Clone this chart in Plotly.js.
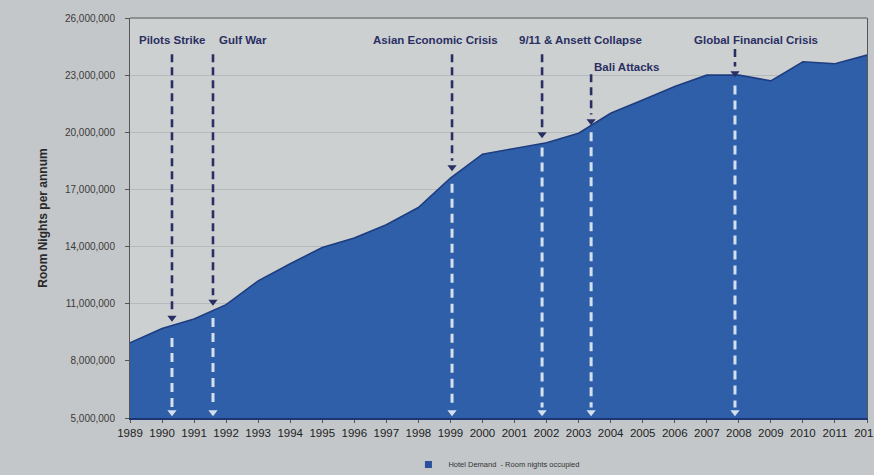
<!DOCTYPE html>
<html>
<head>
<meta charset="utf-8">
<script src="https://cdn.plot.ly/plotly-3.0.1.min.js"></script>
<style>
html,body{margin:0;padding:0;background:#c4c7c9;}
#chart{width:874px;height:475px;}
</style>
</head>
<body>
<div id="chart"></div>
<script>
// ---- data ----
const years = [1989,1990,1991,1992,1993,1994,1995,1996,1997,1998,1999,2000,2001,2002,2003,2004,2005,2006,2007,2008,2009,2010,2011,2012];
const roomNights = [8950000,9700000,10200000,10950000,12200000,13100000,13950000,14450000,15150000,16050000,17600000,18850000,19150000,19450000,19950000,21000000,21700000,22400000,23000000,23000000,22700000,23700000,23600000,24050000];
const seriesName = 'Hotel Demand  - Room nights occupied';
const yTicks = [5000000,8000000,11000000,14000000,17000000,20000000,23000000,26000000];

const eventNames = ['Pilots Strike','Gulf War','Asian Economic Crisis','9/11 & Ansett Collapse','Bali Attacks','Global Financial Crisis'];
const eventYears = [1990.31,1991.59,1999.05,2001.86,2003.39,2007.88];
const eventArrowTop = [24100000,24100000,24100000,24100000,23050000,24370000];
const eventArrowTip = [10260000,11100000,18160000,19900000,20580000,23100000];
const eventWhiteTop = [9200000,10250000,17300000,19200000,20000000,22450000];

// ---- styles ----
const navy = '#2a2f63';
const whiteDash = 'rgba(232,238,245,0.9)';
const fillBlue = '#2f5fa8';
const yBottom = 5300000;
const font = 'Liberation Sans, Arial, sans-serif';

const traces = [];
traces.push({
  x: years, y: roomNights, type: 'scatter', mode: 'lines', name: seriesName,
  fill: 'tozeroy', fillcolor: fillBlue, showlegend: false,
  line: {color: '#1d3d80', width: 1.6},
  hoverinfo: 'x+y'
});
// legend entry with a small square swatch
traces.push({
  x: [null], y: [null], type: 'scatter', mode: 'markers', name: seriesName,
  marker: {symbol: 'square', size: 7, color: '#2a4f9c'}, showlegend: true
});
eventYears.forEach((ex, i) => {
  traces.push({
    x: [ex, ex], y: [eventWhiteTop[i], yBottom + 250000], type: 'scatter', mode: 'lines',
    line: {color: whiteDash, width: 3, dash: '9px,6px'}, showlegend: false, hoverinfo: 'skip'
  });
  traces.push({
    x: [ex, ex], y: [eventArrowTop[i], eventArrowTip[i] + 350000], type: 'scatter', mode: 'lines',
    line: {color: navy, width: 2.6, dash: '8px,5px'}, showlegend: false, hoverinfo: 'skip'
  });
});
traces.push({
  x: eventYears, y: eventYears.map(() => yBottom), type: 'scatter', mode: 'markers',
  marker: {symbol: 'triangle-down', size: 8, color: whiteDash}, showlegend: false, hoverinfo: 'skip'
});
traces.push({
  x: eventYears, y: eventArrowTip, type: 'scatter', mode: 'markers',
  marker: {symbol: 'triangle-down', size: 8, color: navy}, showlegend: false, hoverinfo: 'skip'
});

const labelShift = [0, 4, -17, 38, 1, 21];
const labelAnchor = ['center','left','center','center','left','center'];
const labelY = [26000000,26000000,26000000,26000000,24400000,26000000];
const labelYShift = [-14,-14,-14,-14,-11,-14];
const annotations = eventNames.map((n, i) => ({
  x: eventYears[i], y: labelY[i], xref: 'x', yref: 'y',
  text: '<b>' + n + '</b>', showarrow: false,
  xanchor: labelAnchor[i], yanchor: 'top', xshift: labelShift[i], yshift: labelYShift[i],
  font: {family: font, size: 11.5, color: navy}
}));

const layout = {
  width: 874, height: 475,
  margin: {l: 130, r: 7, t: 18, b: 57, autoexpand: false},
  paper_bgcolor: '#c4c7c9',
  plot_bgcolor: '#cdd0d1',
  showlegend: true,
  legend: {
    orientation: 'h', x: 0.568, xref: 'container', xanchor: 'center',
    y: 0.022, yref: 'container', yanchor: 'middle',
    font: {family: font, size: 7.5, color: '#333'},
    bgcolor: 'rgba(0,0,0,0)', itemwidth: 30
  },
  xaxis: {
    range: [1989, 2012], tickmode: 'array', tickvals: years, ticktext: years.map(String),
    showgrid: false, zeroline: false, automargin: false,
    showline: true, linecolor: '#1d3570', linewidth: 2,
    ticks: 'outside', ticklen: 3, tickcolor: '#555', ticklabeloverflow: 'allow',
    tickfont: {family: font, size: 11.5, color: '#222'}
  },
  yaxis: {
    range: [5000000, 26000000], tickmode: 'array', tickvals: yTicks,
    ticktext: yTicks.map(v => v.toLocaleString('en-US')),
    showgrid: true, gridcolor: 'rgba(140,145,150,0.35)', gridwidth: 1, automargin: false,
    zeroline: false, showline: true, linecolor: '#555', linewidth: 1, mirror: true,
    ticks: 'outside', ticklen: 4, tickcolor: '#555', ticklabelstandoff: 8,
    tickfont: {family: font, size: 10, color: '#3a3a3a'},
    title: {text: '<b>Room Nights per annum</b>', standoff: 14,
      font: {family: font, size: 12, color: '#2a2a2a'}}
  },
  shapes: [{type: 'line', xref: 'paper', yref: 'paper', x0: 0, x1: 1, y0: 1, y1: 1,
    line: {color: '#555', width: 1}}],
  annotations: annotations
};

Plotly.newPlot('chart', traces, layout, {displayModeBar: false, staticPlot: true});
</script>
</body>
</html>
